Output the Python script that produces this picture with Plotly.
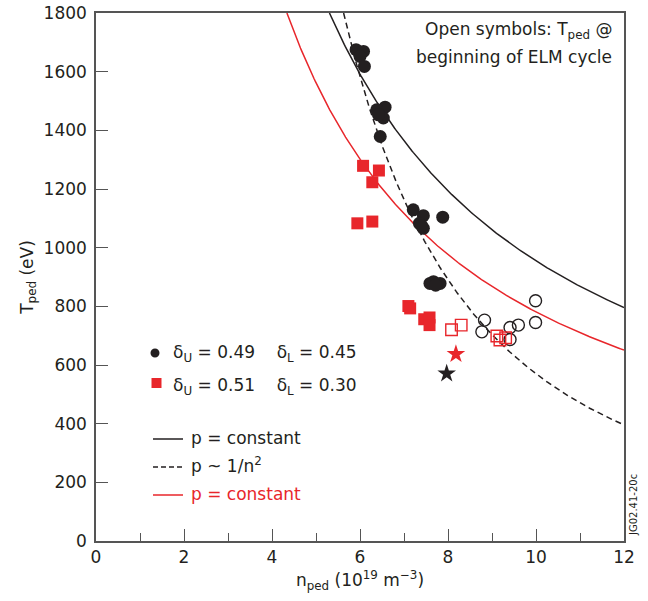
import numpy as np
import plotly.graph_objects as go

# ---- data ----
black_filled_n = [5.91, 6.08, 6.00, 6.10, 6.57, 6.38, 6.53, 6.42, 6.46,
                  7.21, 7.44, 7.88, 7.35, 7.44, 7.40, 7.67, 7.82, 7.59, 7.72]
black_filled_T = [1675, 1669, 1652, 1618, 1479, 1470, 1442, 1453, 1379,
                  1129, 1109, 1104, 1083, 1066, 1075, 884, 878, 878, 872]

red_filled_n = [6.07, 6.43, 6.28, 5.94, 6.28, 7.10, 7.14, 7.46, 7.58, 7.58]
red_filled_T = [1279, 1263, 1223, 1083, 1089, 801, 793, 756, 762, 736]

black_open_n = [9.99, 9.99, 8.83, 8.77, 9.41, 9.60, 9.41]
black_open_T = [819, 745, 753, 713, 728, 736, 687]

red_open_n = [8.30, 8.08, 9.11, 9.31, 9.18]
red_open_T = [736, 720, 699, 693, 685]

red_star_n = [8.18]
red_star_T = [637]
black_star_n = [7.97]
black_star_T = [571]

# curve constants:  p = n*T = const  ->  T = C/n ;  p ~ 1/n^2 -> T = K/n^2
C_black = 9550
C_red = 7810
K_dashed = 57000

x_ticks = [0, 2, 4, 6, 8, 10, 12]
y_ticks = [0, 200, 400, 600, 800, 1000, 1200, 1400, 1600, 1800]

BLACK = "#231f20"
RED = "#e8262b"
FONT = "DejaVu Sans"

n_b = np.linspace(C_black / 1800, 12, 300)
n_r = np.linspace(C_red / 1800, 12, 300)
n_d = np.linspace(np.sqrt(K_dashed / 1800), 12, 300)

fig = go.Figure()
fig.add_trace(go.Scatter(x=n_b, y=C_black / n_b, mode="lines",
                         line=dict(color=BLACK, width=1.5), showlegend=False))
fig.add_trace(go.Scatter(x=n_r, y=C_red / n_r, mode="lines",
                         line=dict(color=RED, width=1.5), showlegend=False))
fig.add_trace(go.Scatter(x=n_d, y=K_dashed / n_d ** 2, mode="lines",
                         line=dict(color=BLACK, width=1.5, dash="6px,4px"), showlegend=False))

fig.add_trace(go.Scatter(x=black_open_n, y=black_open_T, mode="markers",
                         marker=dict(symbol="circle-open", size=12, color=BLACK,
                                     line=dict(width=1.4, color=BLACK)), showlegend=False))
fig.add_trace(go.Scatter(x=red_open_n, y=red_open_T, mode="markers",
                         marker=dict(symbol="square-open", size=11.5, color=RED,
                                     line=dict(width=1.4, color=RED)), showlegend=False))
fig.add_trace(go.Scatter(x=black_filled_n, y=black_filled_T, mode="markers",
                         marker=dict(symbol="circle", size=13, color=BLACK,
                                     line=dict(width=0)), showlegend=False))
fig.add_trace(go.Scatter(x=red_filled_n, y=red_filled_T, mode="markers",
                         marker=dict(symbol="square", size=12, color=RED,
                                     line=dict(width=0)), showlegend=False))
fig.add_trace(go.Scatter(x=red_star_n, y=red_star_T, mode="markers",
                         marker=dict(symbol="star", size=14, color=RED, line=dict(width=0)),
                         showlegend=False))
fig.add_trace(go.Scatter(x=black_star_n, y=black_star_T, mode="markers",
                         marker=dict(symbol="star", size=14, color=BLACK, line=dict(width=0)),
                         showlegend=False))

L, R, T, B = 96, 24, 13, 60
W, H = 648, 601
PW, PH = W - L - R, H - T - B


def px(x):
    return (x - L) / PW


def py(y):
    return (T + PH - y) / PH


shapes = []
# legend symbols
shapes.append(dict(type="circle", xref="paper", yref="paper",
                   x0=px(150.5), x1=px(159.5), y0=py(357.5), y1=py(348.5),
                   fillcolor=BLACK, line=dict(width=0)))
shapes.append(dict(type="rect", xref="paper", yref="paper",
                   x0=px(151.5), x1=px(161.5), y0=py(388), y1=py(378),
                   fillcolor=RED, line=dict(width=0)))
shapes.append(dict(type="line", xref="paper", yref="paper",
                   x0=px(153), x1=px(183), y0=py(439), y1=py(439),
                   line=dict(color=BLACK, width=1.5)))
shapes.append(dict(type="line", xref="paper", yref="paper",
                   x0=px(153), x1=px(183), y0=py(467), y1=py(467),
                   line=dict(color=BLACK, width=1.5, dash="5px,3px")))
shapes.append(dict(type="line", xref="paper", yref="paper",
                   x0=px(153), x1=px(183), y0=py(495), y1=py(495),
                   line=dict(color=RED, width=1.5)))

ann = []
nb = "\u00a0"
ann.append(dict(xref="paper", yref="paper", x=px(171), y=py(353), xanchor="left", yanchor="middle",
                text=f"δ<sub>U</sub> = 0.49{nb}{nb}{nb}{nb}δ<sub>L</sub> = 0.45", showarrow=False,
                font=dict(size=17, color=BLACK, family=FONT)))
ann.append(dict(xref="paper", yref="paper", x=px(171), y=py(386), xanchor="left", yanchor="middle",
                text=f"δ<sub>U</sub> = 0.51{nb}{nb}{nb}{nb}δ<sub>L</sub> = 0.30", showarrow=False,
                font=dict(size=17, color=BLACK, family=FONT)))
ann.append(dict(xref="paper", yref="paper", x=px(189), y=py(438), xanchor="left", yanchor="middle",
                text="p = constant", showarrow=False, font=dict(size=17, color=BLACK, family=FONT)))
ann.append(dict(xref="paper", yref="paper", x=px(189), y=py(465), xanchor="left", yanchor="middle",
                text="p ~ 1/n<sup>2</sup>", showarrow=False, font=dict(size=17, color=BLACK, family=FONT)))
ann.append(dict(xref="paper", yref="paper", x=px(189), y=py(494), xanchor="left", yanchor="middle",
                text="p = constant", showarrow=False, font=dict(size=17, color=RED, family=FONT)))
ann.append(dict(xref="paper", yref="paper", x=px(614), y=py(31), xanchor="right", yanchor="middle",
                text="Open symbols: T<sub>ped</sub> @", showarrow=False,
                font=dict(size=17, color=BLACK, family=FONT)))
ann.append(dict(xref="paper", yref="paper", x=px(614), y=py(57), xanchor="right", yanchor="middle",
                text="beginning of ELM cycle", showarrow=False,
                font=dict(size=17, color=BLACK, family=FONT)))
ann.append(dict(xref="paper", yref="paper", x=px(633), y=py(505), xanchor="center", yanchor="middle",
                text="JG02.41-20c", textangle=-90, showarrow=False,
                font=dict(size=10, color=BLACK, family=FONT)))

fig.update_layout(
    width=W, height=H,
    margin=dict(l=L, r=R, t=T, b=B, autoexpand=False),
    paper_bgcolor="white", plot_bgcolor="white",
    font=dict(family=FONT, size=17, color=BLACK),
    shapes=shapes, annotations=ann,
    showlegend=False,
)
fig.update_xaxes(
    range=[0, 12], tickvals=x_ticks, ticks="inside", ticklen=12, tickwidth=1.2, tickcolor="#555",
    minor=dict(dtick=1, ticks="inside", ticklen=8, tickwidth=1.2, tickcolor="#555"),
    showline=True, linecolor="#555", linewidth=1.5, mirror=True, showgrid=False, zeroline=False,
    tickfont=dict(size=17, family=FONT), automargin=False,
    title=dict(text="n<sub>ped</sub> (10<sup>19</sup> m<sup>−3</sup>)", font=dict(size=17, family=FONT),
               standoff=8),
)
fig.update_yaxes(
    range=[0, 1800], tickvals=y_ticks, ticks="inside", ticklen=12, tickwidth=1.2, tickcolor="#555",
    showline=True, linecolor="#555", linewidth=1.5, mirror=True, showgrid=False, zeroline=False,
    tickfont=dict(size=17, family=FONT), ticklabelstandoff=4, automargin=False,
    title=dict(text="T<sub>ped</sub> (eV)", font=dict(size=17, family=FONT), standoff=6),
)

fig.write_html("out.html")
